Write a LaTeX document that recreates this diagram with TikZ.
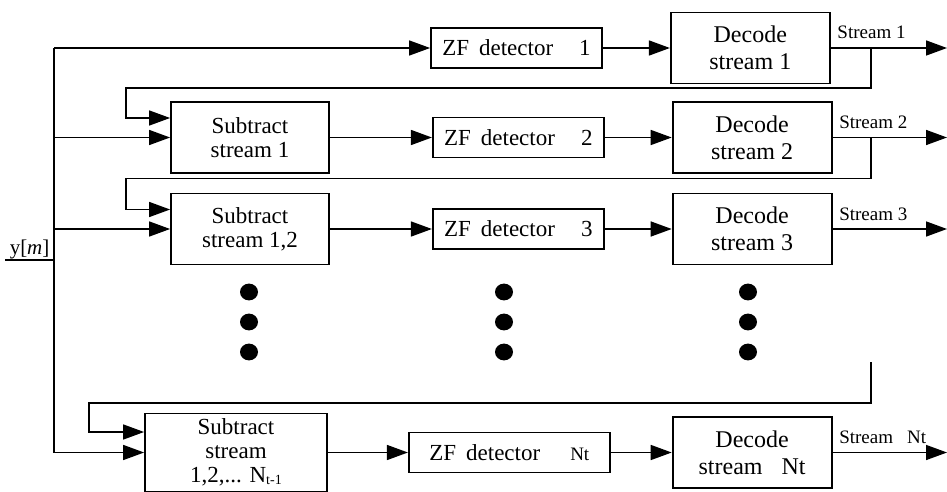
\documentclass[tikz,border=0pt]{standalone}
\usepackage{fontspec}
\setmainfont{Liberation Serif}
\usetikzlibrary{positioning,arrows.meta}

\begin{document}
\begin{tikzpicture}[x=0.5pt,y=-0.5pt,line width=0.75pt,
	blk/.style={draw,line width=0.9pt,inner sep=0pt,align=center},
	zf/.style={blk,minimum width=85.5pt,minimum height=20pt,font=\fontsize{11.5}{13}\selectfont},
	dec/.style={blk,minimum width=79.5pt,minimum height=35.5pt,font=\fontsize{12}{13.5}\selectfont},
	sub/.style={blk,minimum width=79pt,minimum height=35.5pt,font=\fontsize{11.5}{12}\selectfont},
	lbl/.style={font=\fontsize{9.5}{10}\selectfont,anchor=base west,inner sep=0pt},
	arr/.style={-{Triangle[length=10.5pt,width=7.5pt]}}]
	\useasboundingbox (0,0) rectangle (947,492);
	\node[zf] (zf1) at (516.5,48) {ZF\hspace{5pt}detector\hspace{13pt}1};
	\node[dec] (dec1) [right=33.5pt of zf1] {Decode\\stream 1};
	\node[sub] (sub1) at (250,137.5) {Subtract\\stream 1};
	\node[zf] (zf2) [right=51pt of sub1] {ZF\hspace{5pt}detector\hspace{13pt}2};
	\node[dec] (dec2) [right=33.5pt of zf2] {Decode\\stream 2};
	\node[sub] (sub2) at (250,229) {Subtract\\stream 1,2};
	\node[zf] (zf3) [right=51pt of sub2] {ZF\hspace{5pt}detector\hspace{13pt}3};
	\node[dec] (dec3) [right=33.5pt of zf3] {Decode\\stream 3};
	\node[sub,minimum width=91pt,minimum height=39pt] (subN) at (236,452.5) {Subtract\\stream\\1,2,... N\raisebox{-1pt}{\scriptsize t-1}};
	\node[zf,minimum width=100.5pt] (zfN) [right=40pt of subN] {ZF\hspace{5pt}detector\hspace{15pt}{\fontsize{9.5}{10}\selectfont Nt}};
	\node[dec] (decN) [right=30.5pt of zfN] {Decode\\stream\hspace{9.5pt}Nt};
%	input bus
	\coordinate (bus) at (54,48);
	\coordinate (busN) at (54,452.5);
	\coordinate (yin) at (5,260);
	\coordinate (tx) at (871,0);
	\coordinate (rt) at (947,0);
	\coordinate (tN) at (871,362);
	\node[lbl,font=\fontsize{10.5}{12}\selectfont] (ylbl) at (9,254) {y[\textit{m}]};
	\draw (yin) -- (yin -| bus);
	\draw (bus) -- (busN);
	\draw[arr] (bus) -- (zf1);
	\draw[arr] (sub1.west -| bus) -- (sub1);
	\draw[arr] (sub2.west -| bus) -- (sub2);
	\draw[arr] (busN) -- (subN);
	\path[arr]
	(sub1) edge (zf2)
	(sub2) edge (zf3)
	(subN) edge (zfN)
	(zf1) edge (dec1)
	(zf2) edge (dec2)
	(zf3) edge (dec3)
	(zfN) edge (decN)
	(dec1) edge (dec1.east -| rt)
	(dec2) edge (dec2.east -| rt)
	(dec3) edge (dec3.east -| rt)
	(decN) edge (decN.east -| rt)
;
	\node[lbl] (s1) at ([xshift=3pt,yshift=4.5pt]dec1.east) {Stream 1};
	\node[lbl] (s2) at ([xshift=3pt,yshift=4.5pt]dec2.east) {Stream 2};
	\node[lbl] (s3) at ([xshift=3pt,yshift=4.5pt]dec3.east) {Stream 3};
	\node[lbl] (sN) at ([xshift=3pt,yshift=4.5pt]decN.east) {Stream\hspace{7pt}Nt};
%	feedback
	\draw[arr] (dec1.east -| tx) -- ++(0,40) -| ([xshift=-22pt,yshift=9.75pt]sub1.west) -- ([yshift=9.75pt]sub1.west);
	\draw[arr] (dec2.east -| tx) -- ++(0,41) -| ([xshift=-22pt,yshift=9.75pt]sub2.west) -- ([yshift=9.75pt]sub2.west);
	\draw[arr] (tN) -- ++(0,41) -| ([xshift=-27.5pt,yshift=10.25pt]subN.west) -- ([yshift=10.25pt]subN.west);
	\foreach \x in {249,504,748}
		\foreach \y in {292,322,352}
			\fill (\x,\y) ellipse [x radius=4.5pt,y radius=4.2pt];
\end{tikzpicture}
\end{document}
